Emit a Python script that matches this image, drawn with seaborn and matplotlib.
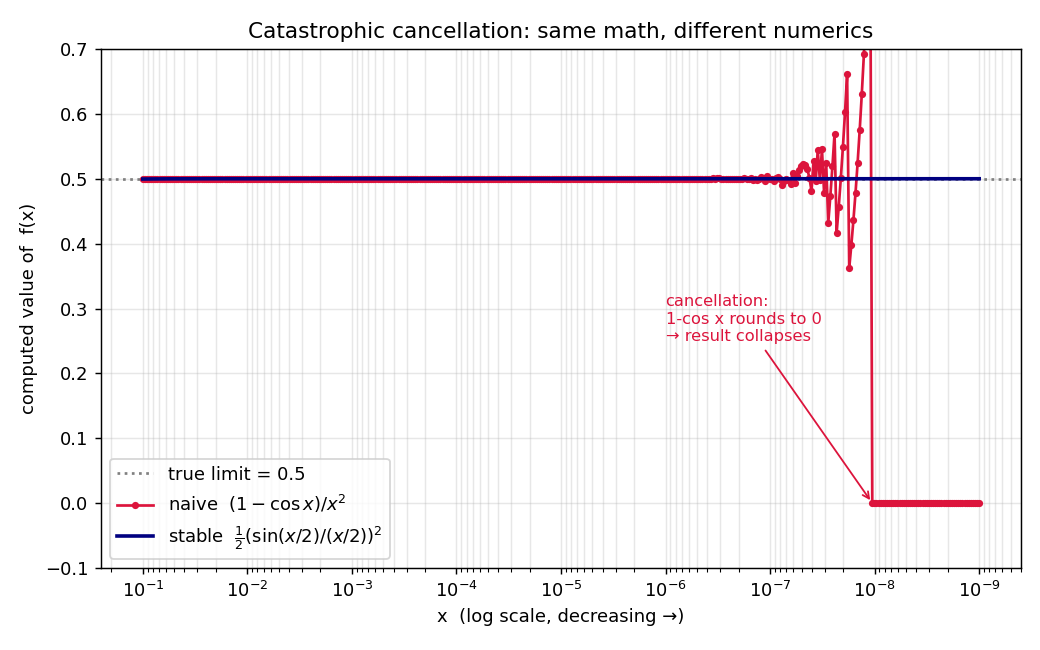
import numpy as np
import pandas as pd
import matplotlib
matplotlib.use("Agg")
import matplotlib.pyplot as plt
import seaborn as sns

# sample grid (log-spaced x from 1e-1 down to 1e-9) and the two evaluations
x_exp_start = -1
x_exp_end = -9
n_points = 400
true_limit = 0.5

x = np.logspace(x_exp_start, x_exp_end, n_points)
naive = (1.0 - np.cos(x)) / x**2
stable = 0.5 * (np.sin(x / 2) / (x / 2)) ** 2

df = pd.DataFrame({"x": x, "naive": naive, "stable": stable})

fig, ax = plt.subplots(figsize=(8, 5), dpi=130)
ax.set_xscale("log")

ax.axhline(true_limit, color="gray", linestyle=":", linewidth=1.5,
           label="true limit = 0.5")
sns.lineplot(data=df, x="x", y="naive", ax=ax, color="crimson",
             marker="o", markersize=4, markeredgewidth=0, linewidth=1.5,
             estimator=None, sort=False,
             label=r"naive  $(1-\cos x)/x^2$")
sns.lineplot(data=df, x="x", y="stable", ax=ax, color="navy",
             linewidth=2, estimator=None, sort=False,
             label=r"stable  $\frac{1}{2}(\sin(x/2)/(x/2))^2$")

ax.set_ylim(-0.1, 0.7)
ax.invert_xaxis()
ax.grid(True, which="both", alpha=0.3)

first_zero = x[np.argmax(naive == 0)]
ax.annotate("cancellation:\n1-cos x rounds to 0\n→ result collapses",
            xy=(first_zero, 0.0), xytext=(1e-6, 0.25),
            color="crimson", fontsize=9,
            arrowprops=dict(arrowstyle="->", color="crimson", lw=1))

ax.set_xlabel("x  (log scale, decreasing →)")
ax.set_ylabel("computed value of  f(x)")
ax.set_title("Catastrophic cancellation: same math, different numerics")
ax.legend(loc="lower left")

fig.subplots_adjust(left=101 / 1040, right=1021 / 1040,
                    top=1 - 49 / 650, bottom=1 - 568 / 650)
fig.savefig("out.png", dpi=130)
